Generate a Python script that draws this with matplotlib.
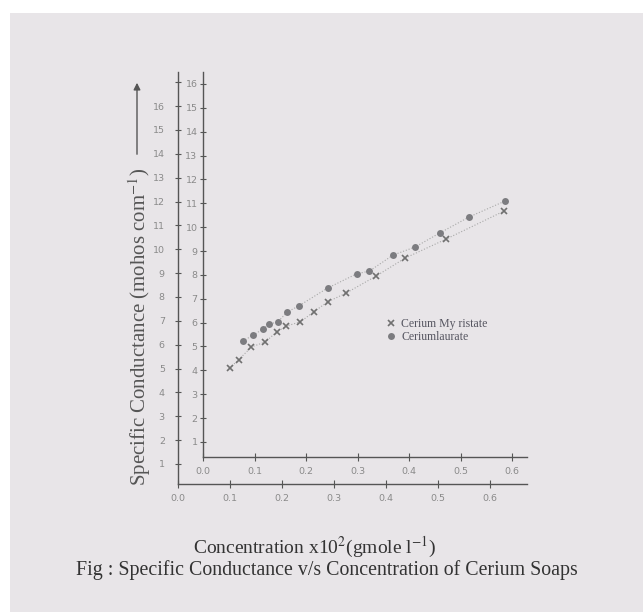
import matplotlib
matplotlib.use("Agg")
import matplotlib.pyplot as plt
from matplotlib.patches import Rectangle

plt.rcParams['mathtext.fontset'] = 'stix'

# ---- data ----
myristate_conc = [0.052, 0.069, 0.094, 0.121, 0.143, 0.162, 0.189, 0.215, 0.242,
                  0.278, 0.336, 0.393, 0.472, 0.585]
myristate_cond = [4.10, 4.44, 4.98, 5.19, 5.61, 5.86, 6.03, 6.45, 6.87,
                  7.24, 7.95, 8.71, 9.50, 10.68]
laurate_conc = [0.077, 0.098, 0.116, 0.129, 0.145, 0.164, 0.186, 0.242, 0.298,
                0.323, 0.369, 0.412, 0.460, 0.517, 0.587]
laurate_cond = [5.23, 5.48, 5.73, 5.94, 6.03, 6.45, 6.70, 7.45, 8.04,
                8.16, 8.83, 9.17, 9.76, 10.43, 11.10]

x_ticks = [0.0, 0.1, 0.2, 0.3, 0.4, 0.5, 0.6]
x_labels = ['0.0', '0.1', '0.2', '0.3', '0.4', '0.5', '0.6']
inner_y_ticks = list(range(1, 17))
inner_y_labels = [str(v) for v in inner_y_ticks]
outer_y_ticks = list(range(1, 18))
outer_y_labels = [str(v) for v in range(1, 17)] + ['']

series_labels = ['Cerium My ristate', 'Ceriumlaurate']

W, H = 643, 612
fig = plt.figure(figsize=(W / 100, H / 100), dpi=100)
fig.patch.set_facecolor('white')
fig.patches.append(Rectangle((10 / W, 0), 1 - 10 / W, 1 - 13 / H,
                             transform=fig.transFigure, facecolor='#e8e5e8',
                             edgecolor='none', zorder=-10))

def px_axes(left, right, top, bottom):
    return [left / W, 1 - bottom / H, (right - left) / W, (bottom - top) / H]

tick_col = '#8a8a8a'
line_col = '#555555'

# ---- outer axes ----
ax_o = fig.add_axes(px_axes(178, 527, 72, 484))
ax_o.patch.set_alpha(0)
ax_o.set_xlim(0, 0.672)
ax_o.set_ylim(0.16, 17.43)
for s in ['top', 'right']:
    ax_o.spines[s].set_visible(False)
for s in ['left', 'bottom']:
    ax_o.spines[s].set_color(line_col)
    ax_o.spines[s].set_linewidth(1.0)
ax_o.set_xticks(x_ticks)
ax_o.set_xticklabels(x_labels, fontsize=6.8, color=tick_col)
ax_o.set_yticks(outer_y_ticks)
ax_o.set_yticklabels(outer_y_labels, fontsize=6.8, color=tick_col)
ax_o.tick_params(axis='y', direction='inout', length=5, width=0.8, color=line_col, pad=7)
ax_o.tick_params(axis='x', direction='inout', length=6, width=0.8, color=line_col, pad=4)

# ---- inner axes (data) ----
ax = fig.add_axes(px_axes(203, 527, 72, 457))
ax.patch.set_alpha(0)
ax.set_xlim(0, 0.629)
ax.set_ylim(0.37, 16.5)
for s in ['top', 'right']:
    ax.spines[s].set_visible(False)
for s in ['left', 'bottom']:
    ax.spines[s].set_color(line_col)
    ax.spines[s].set_linewidth(1.0)
ax.set_xticks(x_ticks)
ax.set_xticklabels(x_labels, fontsize=6.8, color=tick_col)
ax.set_yticks(inner_y_ticks)
ax.set_yticklabels(inner_y_labels, fontsize=6.8, color=tick_col)
ax.tick_params(axis='y', direction='inout', length=5, width=0.8, color=line_col, pad=1.5)
ax.tick_params(axis='x', direction='inout', length=6, width=0.8, color=line_col, pad=4)
for lab in ax.get_xticklabels() + ax.get_yticklabels() + ax_o.get_xticklabels() + ax_o.get_yticklabels():
    lab.set_family('DejaVu Sans')

# faint trend lines through the points
ax.plot(myristate_conc, myristate_cond, ls=':', lw=0.8, color='#a8a8a8', zorder=1)
ax.plot(laurate_conc, laurate_cond, ls=':', lw=0.8, color='#a8a8a8', zorder=1)
ax.plot(myristate_conc, myristate_cond, ls='none', marker='x', ms=5, mew=1.2,
        color='#707070', label=series_labels[0], zorder=3)
ax.plot(laurate_conc, laurate_cond, ls='none', marker='o', ms=5, mec='none',
        color='#7c7c80', label=series_labels[1], zorder=3)

leg = ax.legend(loc='upper left', bbox_to_anchor=(379 / W, 1 - 312 / H),
                bbox_transform=fig.transFigure, frameon=False, borderpad=0,
                handlelength=1.0, handletextpad=0.4, labelspacing=0.1,
                prop=dict(family='Liberation Serif', size=8.5))
for t in leg.get_texts():
    t.set_color('#555560')

# ---- axis labels / captions ----
fig.text(140 / W, 1 - 327 / H, 'Specific Conductance (mohos com$^{-1}$)',
         rotation=90, ha='center', va='center', fontsize=15,
         family='Liberation Serif', color='#555555')
ax_o.annotate('', xy=(137 / W, 1 - 80 / H), xytext=(137 / W, 1 - 157 / H),
              xycoords='figure fraction', textcoords='figure fraction',
              arrowprops=dict(arrowstyle='-|>', color='#555555', lw=1.0,
                              mutation_scale=10))
fig.text(315 / W, 1 - 547 / H, 'Concentration x10$^{2}$(gmole l$^{-1}$)',
         ha='center', va='center', fontsize=14, family='Liberation Serif',
         color='#333333')
fig.text(76 / W, 1 - 570 / H,
         'Fig : Specific Conductance v/s Concentration of Cerium Soaps',
         ha='left', va='center', fontsize=14.3, family='Liberation Serif',
         color='#333333')

fig.savefig('out.png', dpi=100)
